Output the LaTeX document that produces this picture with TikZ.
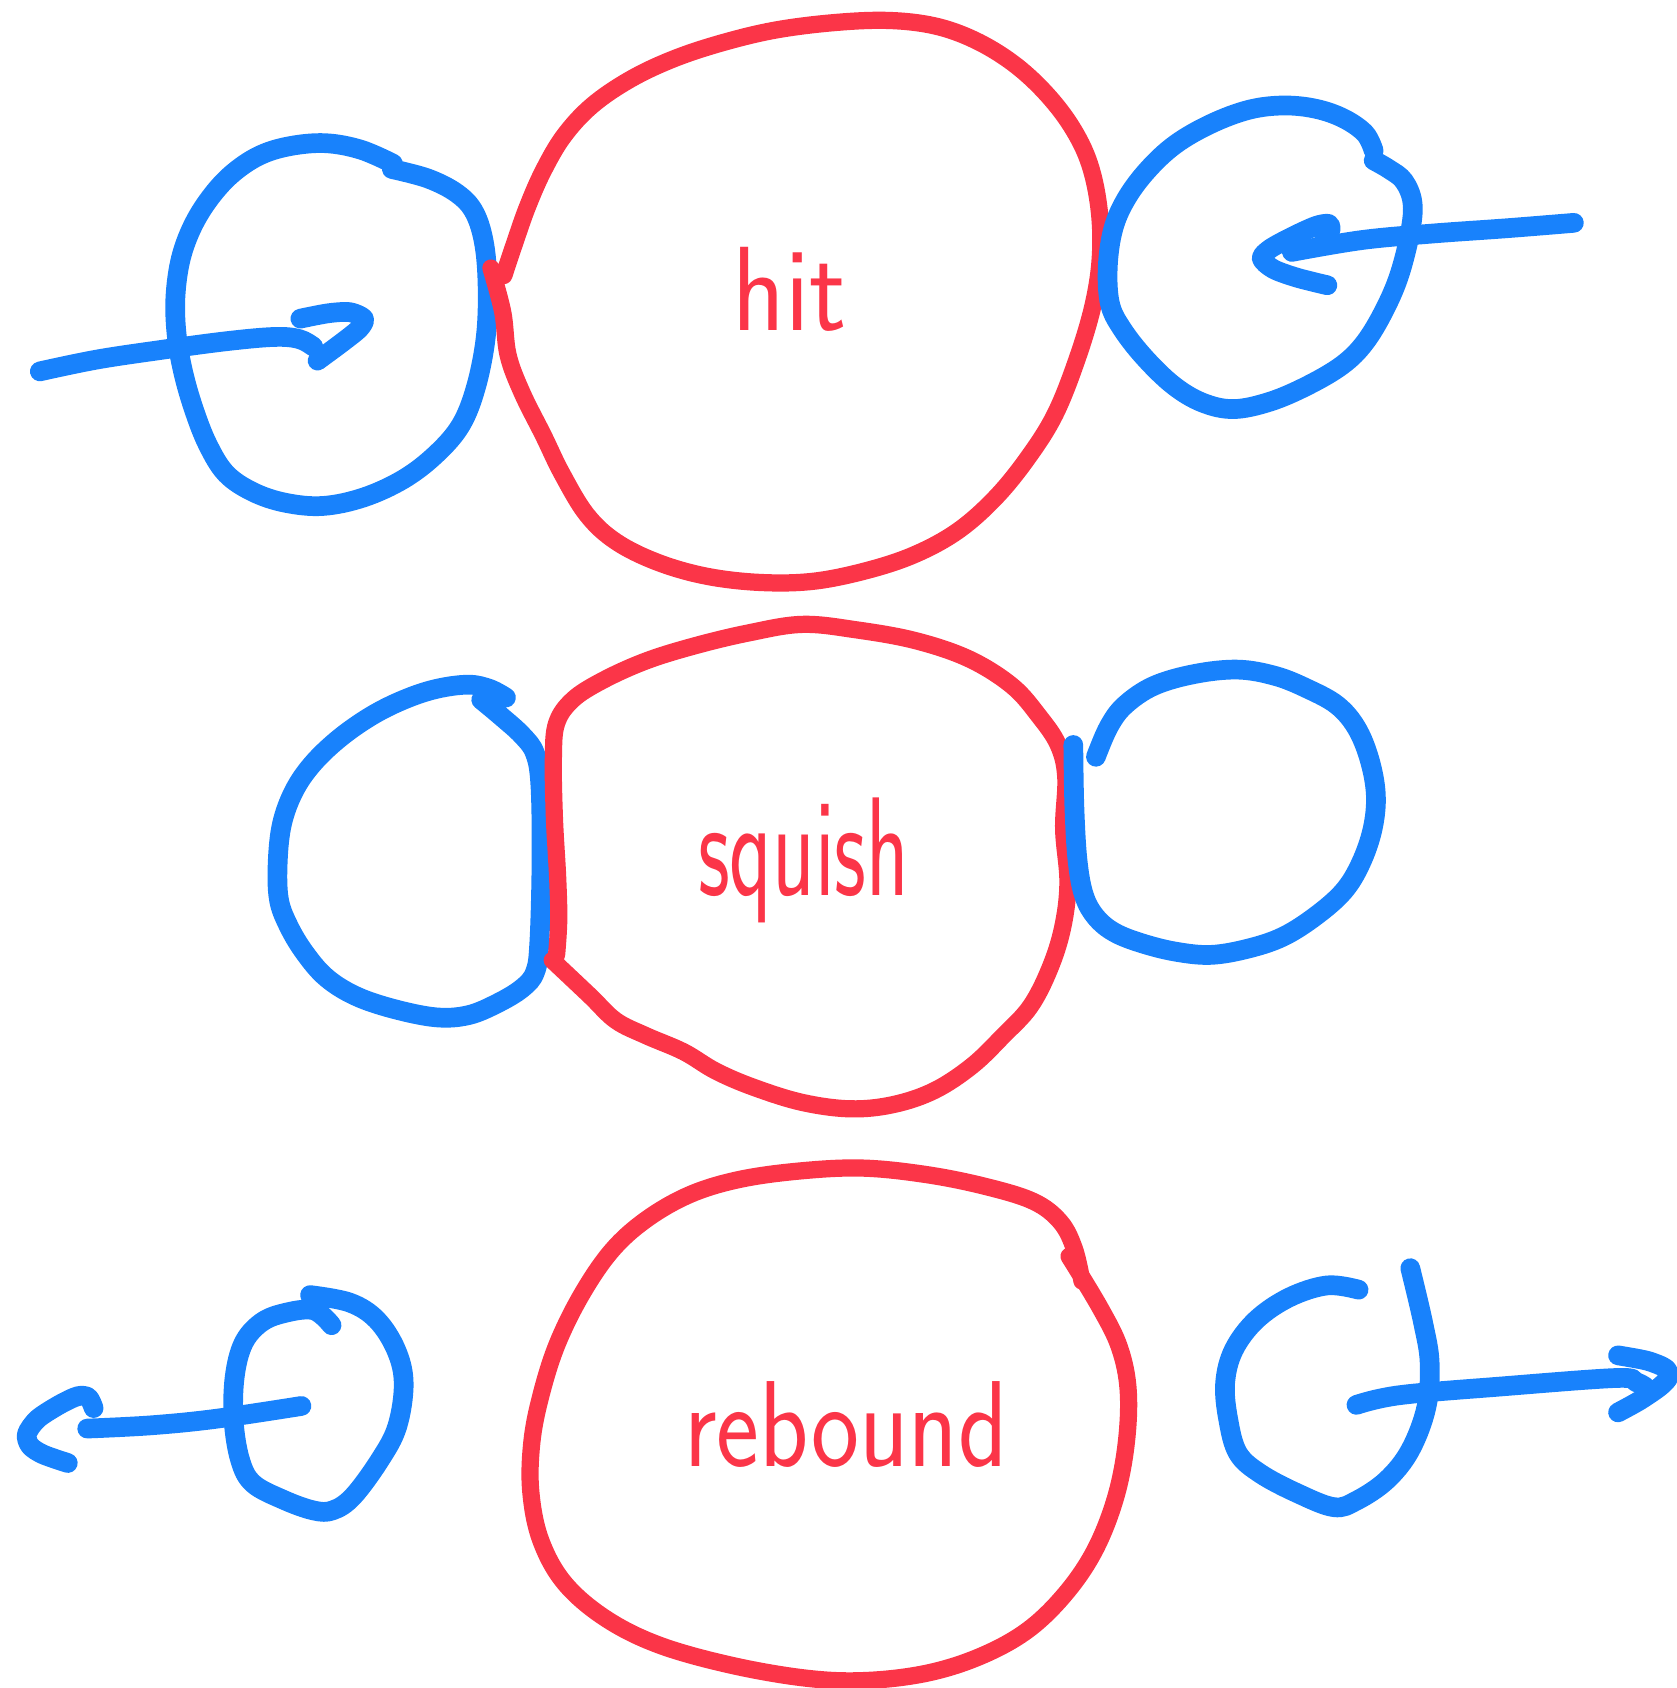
\documentclass[tikz,border=0pt]{standalone}
\usepackage{tikz}

\definecolor{inkblue}{RGB}{24,130,252}
\definecolor{inkred}{RGB}{251,53,72}

\tikzset{
  ball/.style={draw=inkblue, line width=5.6pt, line cap=round, line join=round},
  blob/.style={draw=inkred, line width=4.9pt, line cap=round, line join=round},
  word/.style={text=inkred, font=\sffamily, inner sep=0pt, anchor=base west, transform shape}
}

\begin{document}
\begin{tikzpicture}[x=0.0107643cm, y=-0.0107643cm]
  \useasboundingbox (0,0) rectangle (1557,1568);

  % hit: ball coming in from the left
  \draw[ball] plot[smooth, tension=0.6] coordinates {(365,152) (335,139) (302,133) (268,136) (240,145) (215,162) (195,184) (179,210) (168,240) (163,275) (164,310) (170,345) (180,380) (193,413) (210,440) (235,457) (265,467) (300,470) (338,462) (375,445) (405,422) (428,395) (442,360) (451,315) (453,270) (450,228) (441,198) (425,180) (398,166) (364,157)};
  \draw[ball] plot[smooth, tension=0.6] coordinates {(37,345) (90,334) (150,325) (210,317) (255,313) (278,315) (291,322)};
  \draw[ball] plot[smooth, tension=0.5] coordinates {(279,296) (305,291) (325,290) (338,296) (334,305) (318,318) (295,335)};

  \draw[blob] plot[smooth, tension=0.6] coordinates {(468,256) (478,226) (490,192) (505,158) (524,126) (550,98) (585,74) (625,55) (670,40) (720,28) (775,21) (825,19) (868,24) (905,37) (940,58) (970,85) (995,117) (1012,152) (1021,195) (1022,240) (1015,285) (1000,335) (980,385) (955,425) (925,462) (890,493) (850,515) (805,530) (755,540) (705,541) (655,535) (610,522) (572,503) (545,478) (522,440) (505,405) (485,365) (472,330) (467,290) (456,249)};

  % hit: ball going out to the left
  \draw[ball] plot[smooth, tension=0.6] coordinates {(1276,140) (1268,124) (1248,110) (1222,101) (1192,98) (1160,102) (1125,115) (1092,134) (1066,158) (1046,185) (1034,213) (1029,248) (1031,282) (1042,305) (1063,332) (1090,358) (1117,374) (1146,380) (1180,373) (1215,358) (1247,339) (1268,318) (1286,288) (1300,255) (1310,215) (1312,188) (1304,168) (1290,157) (1276,149)};
  \draw[ball] plot[smooth, tension=0.6] coordinates {(1462,207) (1400,212) (1330,217) (1265,223) (1200,234)};
  \draw[ball] plot[smooth, tension=0.5] coordinates {(1233,265) (1205,258) (1183,250) (1172,240) (1180,231) (1200,220) (1222,210) (1234,208) (1236,214) (1230,222)};

  % squish
  \draw[ball] plot[smooth, tension=0.6] coordinates {(470,648) (455,640) (435,636) (405,640) (375,650) (345,665) (315,686) (290,710) (273,735) (262,765) (258,800) (259,835) (268,860) (283,885) (303,908) (330,925) (365,937) (405,945) (435,943) (462,932) (485,918) (497,903) (501,875) (503,800) (502,730) (497,700) (485,683) (465,665) (447,650)};

  \draw[blob] plot[smooth, tension=0.6] coordinates {(517,887) (519,855) (518,815) (515,760) (514,705) (517,672) (532,650) (560,632) (600,614) (645,600) (695,588) (745,580) (795,585) (850,595) (900,612) (940,637) (965,665) (983,692) (990,722) (988,770) (992,820) (987,862) (975,900) (957,935) (932,962) (903,990) (868,1013) (830,1026) (790,1030) (745,1024) (700,1010) (665,995) (635,977) (600,962) (572,948) (548,925) (513,892)};

  \draw[ball] plot[smooth, tension=0.6] coordinates {(997,692) (998,750) (1001,800) (1007,832) (1018,852) (1035,866) (1060,876) (1092,884) (1125,887) (1160,881) (1192,870) (1222,851) (1248,828) (1264,802) (1275,770) (1278,738) (1272,705) (1260,676) (1242,655) (1215,640) (1185,628) (1150,622) (1110,626) (1072,637) (1045,655) (1030,675) (1018,703)};

  % rebound
  \draw[blob] plot[smooth, tension=0.6] coordinates {(1005,1190) (998,1160) (985,1135) (960,1116) (915,1102) (860,1091) (800,1085) (740,1088) (685,1096) (640,1110) (600,1133) (568,1162) (540,1203) (517,1250) (502,1298) (494,1340) (493,1385) (502,1430) (524,1470) (562,1503) (612,1528) (680,1547) (750,1559) (805,1561) (862,1554) (912,1538) (955,1514) (990,1480) (1017,1440) (1036,1392) (1046,1342) (1048,1292) (1040,1252) (1022,1215) (993,1167)};

  \draw[ball] plot[smooth, tension=0.6] coordinates {(288,1203) (325,1210) (350,1226) (368,1254) (375,1285) (369,1325) (353,1356) (328,1390) (309,1403) (291,1403) (263,1393) (235,1378) (223,1356) (217,1319) (218,1279) (226,1248) (242,1229) (263,1220) (291,1217) (308,1231)};
  \draw[ball] plot[smooth, tension=0.6] coordinates {(81,1327) (140,1324) (200,1318) (280,1306)};
  \draw[ball] plot[smooth, tension=0.5] coordinates {(87,1308) (82,1298) (72,1297) (55,1305) (35,1318) (25,1332) (28,1343) (40,1351) (63,1359)};

  \draw[ball] plot[smooth, tension=0.6] coordinates {(1262,1198) (1233,1194) (1198,1205) (1167,1226) (1146,1254) (1138,1285) (1141,1319) (1150,1350) (1171,1369) (1205,1387) (1239,1400) (1260,1394) (1288,1375) (1310,1347) (1325,1307) (1328,1266) (1322,1229) (1310,1178)};
  \draw[ball] plot[smooth, tension=0.6] coordinates {(1260,1305) (1300,1296) (1393,1288) (1502,1280) (1520,1284) (1528,1288)};
  \draw[ball] plot[smooth, tension=0.5] coordinates {(1503,1259) (1530,1264) (1547,1271) (1550,1279) (1542,1288) (1523,1301) (1503,1312)};

  % labels
  \begin{scope}[every node/.style={word}]
    \node[font=\sffamily\fontsize{31}{31}\selectfont, yscale=1.1] (hit) at (680,307) {hit};
    \node[font=\sffamily\fontsize{25}{25}\selectfont, yscale=1.6] (squish) at (648,832) {squish};
    \node[font=\sffamily\fontsize{29}{29}\selectfont, yscale=1.2] (rebound) at (635,1362) {rebound};
  \end{scope}
\end{tikzpicture}
\end{document}
